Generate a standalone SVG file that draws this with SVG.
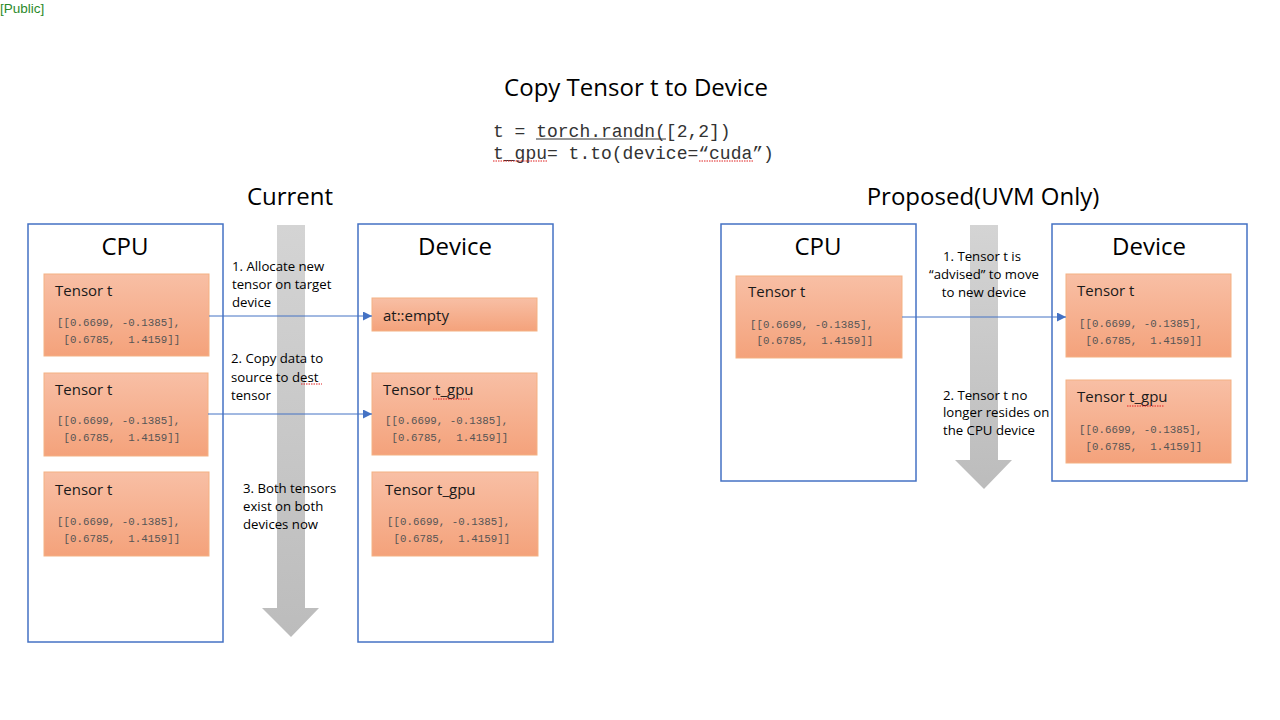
<svg xmlns="http://www.w3.org/2000/svg" width="1280" height="720" viewBox="0 0 1280 720">
<defs>
<linearGradient id="og" x1="0" y1="0" x2="0" y2="1">
<stop offset="0" stop-color="#f8bfa5"/>
<stop offset="1" stop-color="#f4a27b"/>
</linearGradient>
<linearGradient id="gg" x1="0" y1="0" x2="0" y2="1">
<stop offset="0" stop-color="#d4d4d4"/>
<stop offset="1" stop-color="#bcbcbc"/>
</linearGradient>
<marker id="ah" viewBox="0 0 10 10" refX="10" refY="5" markerWidth="9" markerHeight="9" markerUnits="userSpaceOnUse" orient="auto">
<path d="M0,0 L10,5 L0,10 z" fill="#4472c4"/>
</marker>
<style>
.panel{fill:#fff;stroke:#4472c4;stroke-width:1.5}
.tb{fill:url(#og);stroke:#f4b183;stroke-width:1}
.pt{font-family:"Open Sans","Liberation Sans",sans-serif;font-size:24px;fill:#000;text-anchor:middle}
.tn{font-family:"Open Sans","Liberation Sans",sans-serif;font-size:15px;fill:#1a1a1a}
.m{font-family:"Liberation Mono","DejaVu Sans Mono",monospace;font-size:10.8px;fill:#555;white-space:pre}
.code{font-family:"Liberation Mono","Courier New",monospace;font-size:18px;fill:#333;white-space:pre}
.lb{font-family:"Open Sans","Liberation Sans",sans-serif;font-size:13.2px;fill:#000}
.conn{stroke:#4472c4;stroke-width:1;fill:none;marker-end:url(#ah)}
.sq{stroke:#e02020;stroke-width:1;stroke-dasharray:1.5,1;fill:none}
.big{fill:url(#gg)}
</style>
</defs>
<rect width="1280" height="720" fill="#fff"/>
<text x="0" y="13" font-family="Liberation Sans,sans-serif" font-size="13.5" fill="#2a8a2a">[Public]</text>
<text x="636" y="96" class="pt" font-size="23.8">Copy Tensor t to Device</text>
<text x="493" y="137" class="code">t = torch.randn([2,2])</text>
<line x1="536" y1="139" x2="666" y2="139" stroke="#333" stroke-width="1"/>
<text x="493" y="159" class="code">t_gpu= t.to(device=“cuda”)</text>
<path class="sq" d="M493 161 H547 M699 161 H754"/>
<text x="290" y="205" class="pt">Current</text>
<text x="983" y="205" class="pt">Proposed(UVM Only)</text>

<g id="big-arrow-left"><path class="big" d="M277 225 H305 V608 H319 L291 637 L262 608 H277 Z"/></g>
<g id="big-arrow-right"><path class="big" d="M970 225 H998 V460 H1012 L984 489 L955 460 H970 Z"/></g>

<g id="cur-cpu">
<rect class="panel" x="28" y="224" width="195" height="418"/>
<text x="125" y="255" class="pt">CPU</text>
</g>
<g id="cur-cpu-t1">
<rect class="tb" x="44" y="274" width="165" height="82"/>
<text x="55" y="296" class="tn">Tensor t</text>
<text x="57" y="326" class="m">[[0.6699, -0.1385],</text>
<text x="57" y="343" class="m"> [0.6785,  1.4159]]</text>
</g>
<g id="cur-cpu-t2">
<rect class="tb" x="44" y="373" width="164" height="83"/>
<text x="55" y="395" class="tn">Tensor t</text>
<text x="57" y="424" class="m">[[0.6699, -0.1385],</text>
<text x="57" y="441" class="m"> [0.6785,  1.4159]]</text>
</g>
<g id="cur-cpu-t3">
<rect class="tb" x="44" y="472" width="165" height="84"/>
<text x="55" y="495" class="tn">Tensor t</text>
<text x="57" y="525" class="m">[[0.6699, -0.1385],</text>
<text x="57" y="542" class="m"> [0.6785,  1.4159]]</text>
</g>

<g id="cur-dev">
<rect class="panel" x="358" y="224" width="195" height="418"/>
<text x="455" y="255" class="pt">Device</text>
</g>
<g id="cur-dev-empty">
<rect class="tb" x="372" y="298" width="165" height="33"/>
<text x="383" y="321" class="tn">at::empty</text>
</g>
<g id="cur-dev-t1">
<rect class="tb" x="372" y="373" width="165" height="82"/>
<text x="383" y="395" class="tn">Tensor t_gpu</text>
<path class="sq" d="M433 399 H470"/>
<text x="385" y="424" class="m">[[0.6699, -0.1385],</text>
<text x="385" y="441" class="m"> [0.6785,  1.4159]]</text>
</g>
<g id="cur-dev-t2">
<rect class="tb" x="372" y="472" width="166" height="84"/>
<text x="385" y="495" class="tn">Tensor t_gpu</text>
<text x="387" y="525" class="m">[[0.6699, -0.1385],</text>
<text x="387" y="542" class="m"> [0.6785,  1.4159]]</text>
</g>

<g id="pro-cpu">
<rect class="panel" x="721" y="224" width="195" height="257"/>
<text x="818" y="255" class="pt">CPU</text>
</g>
<g id="pro-cpu-t">
<rect class="tb" x="736" y="276" width="166" height="82"/>
<text x="748" y="297" class="tn">Tensor t</text>
<text x="750" y="328" class="m">[[0.6699, -0.1385],</text>
<text x="750" y="344" class="m"> [0.6785,  1.4159]]</text>
</g>
<g id="pro-dev">
<rect class="panel" x="1052" y="224" width="195" height="257"/>
<text x="1149" y="255" class="pt">Device</text>
</g>
<g id="pro-dev-t">
<rect class="tb" x="1066" y="274" width="165" height="83"/>
<text x="1077" y="296" class="tn">Tensor t</text>
<text x="1079" y="327" class="m">[[0.6699, -0.1385],</text>
<text x="1079" y="344" class="m"> [0.6785,  1.4159]]</text>
</g>
<g id="pro-dev-t2">
<rect class="tb" x="1066" y="380" width="165" height="83"/>
<text x="1077" y="402" class="tn">Tensor t_gpu</text>
<path class="sq" d="M1127 406 H1164"/>
<text x="1079" y="433" class="m">[[0.6699, -0.1385],</text>
<text x="1079" y="450" class="m"> [0.6785,  1.4159]]</text>
</g>

<g id="connectors">
<line class="conn" x1="209" y1="316" x2="372" y2="316"/>
<line class="conn" x1="208" y1="414" x2="372" y2="414"/>
<line class="conn" x1="902" y1="317" x2="1066" y2="317"/>
</g>

<g id="labels">
<text class="lb" x="232" y="271">1. Allocate new</text>
<text class="lb" x="232" y="289">tensor on target</text>
<text class="lb" x="232" y="307">device</text>
<text class="lb" x="231" y="363">2. Copy data to</text>
<text class="lb" x="231" y="382">source to dest</text>
<path class="sq" d="M301 384 H322"/>
<text class="lb" x="231" y="400">tensor</text>
<text class="lb" x="243" y="493">3. Both tensors</text>
<text class="lb" x="243" y="511">exist on both</text>
<text class="lb" x="243" y="529">devices now</text>
<text class="lb" x="982" y="261" text-anchor="middle">1. Tensor t is</text>
<text class="lb" x="984" y="279" text-anchor="middle">“advised” to move</text>
<text class="lb" x="984" y="297" text-anchor="middle">to new device</text>
<text class="lb" x="943" y="400">2. Tensor t no</text>
<text class="lb" x="943" y="417">longer resides on</text>
<text class="lb" x="943" y="435">the CPU device</text>
</g>
</svg>
